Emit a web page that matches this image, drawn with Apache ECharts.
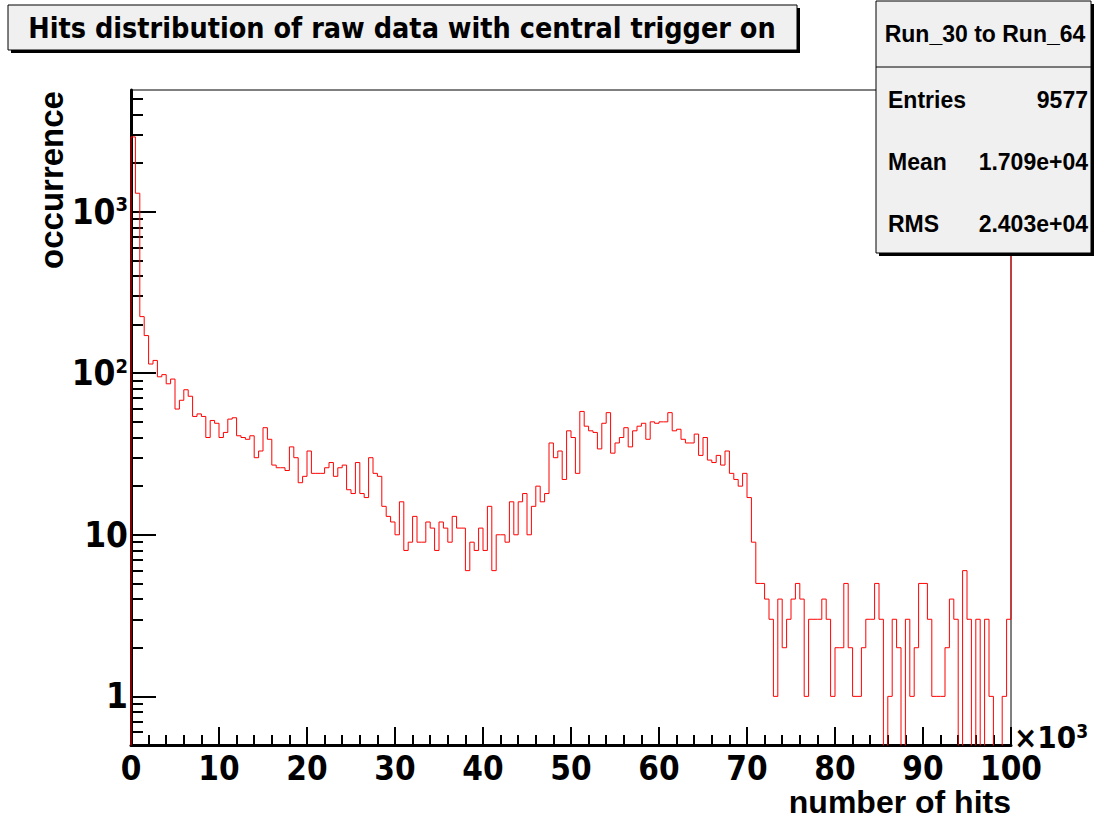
<!DOCTYPE html>
<html><head><meta charset="utf-8">
<script src="https://cdn.jsdelivr.net/npm/echarts@6/dist/echarts.min.js"></script>
<style>html,body{margin:0;padding:0;background:#fff}#c{width:1103px;height:819px}</style>
</head><body><div id="c"></div><script>
// ---- data ----
const titleText = 'Hits distribution of raw data with central trigger on';
const xAxisTitle = 'number of hits';
const yAxisTitle = 'occurrence';
const binWidth = 0.5;           // bin width in units of 10^3 hits
const counts = [
  2900,1300,224,171,114,120,95,98,86,92,
  60,68,79,72,54,56,54,40,51,49,
  40,43,52,53,41,40,39,41,30,33,
  46,39,27,26,26,25,35,30,21,23,
  33,24,24,24,26,28,23,26,27,19,
  18,28,18,17,30,24,23,15,13,12,
  10,16,8,9,13,9,9,12,11,8,
  12,11,9,13,11,11,6,9,8,11,
  8,15,6,10,10,9,16,10,16,18,
  10,15,20,16,18,37,30,33,22,44,
  40,24,58,47,44,43,34,49,57,32,
  37,40,46,35,44,47,49,39,50,49,
  50,50,57,44,45,39,37,37,42,31,
  40,29,28,31,27,33,24,22,20,24,
  17,9,5,5,4,3,1,4,2,3,
  4,5,4,1,3,3,3,4,3,1,
  2,2,5,2,1,1,2,3,3,5,
  3,0,1,3,2,0,3,1,2,5,
  5,3,1,1,1,2,4,3,0,6,
  3,0,3,0,3,1,0,0,1,3
];
const overflowCount = 2000;      // content of the bin just beyond the axis range
const yMajorExps = [0, 1, 2, 3];
const yMajorLabels = ['1', '10', '10{s|2}', '10{s|3}'];
const statsHeader = 'Run_30 to Run_64';
const statsNames = ['Entries', 'Mean', 'RMS'];
const statsValues = ['9577', '1.709e+04', '2.403e+04'];

// ---- build ----
const X_MIN = 0, X_MAX = 100, Y_MIN = 0.5, Y_MAX = 5660;
const FLOOR = 0.01;
const stepData = [[0, FLOOR]];
counts.forEach((c, i) => stepData.push([i * binWidth, c > 0 ? c : FLOOR]));
stepData.push([counts.length * binWidth, overflowCount]);

const lmin = Math.log10(Y_MIN), lmax = Math.log10(Y_MAX);
const minorPos = [];
for (let d = -1; d <= 3; d++) for (let k = 2; k <= 9; k++) {
  const v = Math.log10(k * Math.pow(10, d));
  if (v >= lmin && v <= lmax) minorPos.push(v);
}
const NARROW = '"Liberation Sans Narrow", "DejaVu Sans Condensed", "Liberation Sans", Arial, sans-serif';
const SANS = '"Liberation Sans", Arial, Helvetica, sans-serif';

const chart = echarts.init(document.getElementById('c'), null, {renderer: 'svg', width: 1103, height: 819});
const blk = '#000';
const graphic = [
  // title box with shadow
  {type: 'rect', shape: {x: 11, y: 8, width: 789, height: 45}, style: {fill: '#000'}, z: 100},
  {type: 'rect', shape: {x: 8, y: 5, width: 789, height: 45}, style: {fill: '#f0f0f0', stroke: blk, lineWidth: 1}, z: 101},
  {type: 'text', x: 402, y: 28, z: 102, style: {text: titleText, font: 'bold 28.5px ' + NARROW, fill: blk, align: 'center', verticalAlign: 'middle'}},
  // stats box
  {type: 'rect', shape: {x: 879, y: 4, width: 215, height: 252}, style: {fill: '#000'}, z: 100},
  {type: 'rect', shape: {x: 876, y: 1, width: 215, height: 252}, style: {fill: '#f0f0f0', stroke: blk, lineWidth: 1}, z: 101},
  {type: 'line', shape: {x1: 876, y1: 67, x2: 1091, y2: 67}, style: {stroke: blk, lineWidth: 1}, z: 102},
  {type: 'text', x: 985, y: 34, z: 102, style: {text: statsHeader, font: 'bold 23px ' + SANS, fill: blk, align: 'center', verticalAlign: 'middle'}},
  // axis titles
  {type: 'text', x: 1011, y: 802, z: 102, style: {text: xAxisTitle, font: 'bold 32px ' + SANS, lineHeight: 30, fill: blk, align: 'right', verticalAlign: 'middle'}},
  {type: 'text', x: 51, y: 180, rotation: Math.PI / 2, z: 102, style: {text: yAxisTitle, font: 'bold 33px ' + SANS, fill: blk, align: 'center', verticalAlign: 'middle'}},
  {type: 'text', x: 1014, y: 737, z: 102, style: {text: '×10{s|3}', rich: {s: {fontSize: 19, fontWeight: 'bold', fontFamily: NARROW, verticalAlign: 'top', lineHeight: 16}}, font: 'bold 31px ' + NARROW, fill: blk, align: 'left', verticalAlign: 'middle'}}
];
statsNames.forEach((n, i) => {
  const y = 100 + i * 62;
  graphic.push({type: 'text', x: 888, y: y, z: 102, style: {text: n, font: 'bold 23px ' + SANS, fill: blk, align: 'left', verticalAlign: 'middle'}});
  graphic.push({type: 'text', x: 1088, y: y, z: 102, style: {text: statsValues[i], font: 'bold 23px ' + SANS, fill: blk, align: 'right', verticalAlign: 'middle'}});
});

const valAxisCommon = {
  type: 'value', position: 'left', min: lmin, max: lmax,
  splitLine: {show: false}, axisPointer: {show: false}
};

chart.setOption({
  animation: false,
  backgroundColor: '#fff',
  grid: {left: 131, right: 92, top: 90, bottom: 74, show: true, borderColor: '#000', borderWidth: 1, containLabel: false},
  xAxis: {
    type: 'value', min: X_MIN, max: X_MAX, interval: 10,
    axisLine: {onZero: false, lineStyle: {color: blk, width: 3}},
    axisTick: {inside: true, length: 18, lineStyle: {color: blk, width: 2}},
    minorTick: {show: true, splitNumber: 5, length: 10, lineStyle: {color: blk, width: 2}},
    axisLabel: {color: blk, fontFamily: NARROW, fontWeight: 'bold', fontSize: 33, lineHeight: 30, margin: 8, showMaxLabel: true, showMinLabel: true},
    splitLine: {show: false}
  },
  yAxis: [
    {type: 'log', logBase: 10, min: Y_MIN, max: Y_MAX, show: false},
    Object.assign({}, valAxisCommon, {
      axisLine: {show: true, onZero: false, lineStyle: {color: blk, width: 3}},
      axisTick: {show: true, inside: true, length: 12, customValues: minorPos, lineStyle: {color: blk, width: 2}},
      axisLabel: {show: false}
    }),
    Object.assign({}, valAxisCommon, {
      axisLine: {show: false},
      axisTick: {show: true, inside: true, length: 25, customValues: yMajorExps, lineStyle: {color: blk, width: 2}},
      axisLabel: {
        show: true, customValues: yMajorExps, margin: 3,
        formatter: (v) => yMajorLabels[yMajorExps.indexOf(Math.round(v))] || '',
        rich: {s: {fontSize: 20, fontWeight: 'bold', fontFamily: NARROW, color: blk, verticalAlign: 'top', lineHeight: 18}},
        color: blk, fontFamily: NARROW, fontWeight: 'bold', fontSize: 35
      }
    })
  ],
  series: [{
    type: 'line', xAxisIndex: 0, yAxisIndex: 0, step: 'end', data: stepData,
    showSymbol: false, symbol: 'none', clip: true,
    lineStyle: {color: '#ff0000', width: 1}
  }],
  graphic: graphic
});
</script></body></html>
